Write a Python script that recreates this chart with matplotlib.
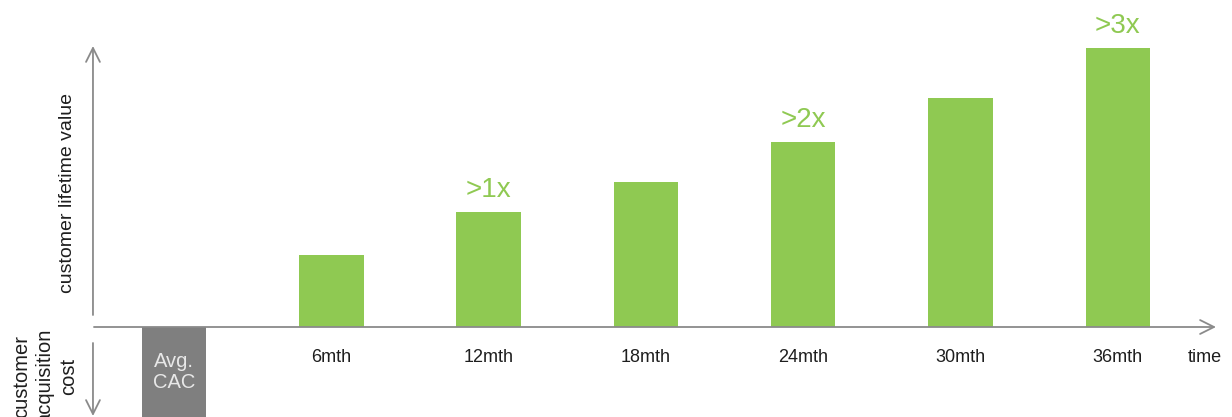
import matplotlib.pyplot as plt

plt.rcParams["font.family"] = ["Liberation Sans", "DejaVu Sans"]

# data (pixel-ish units; zero = time axis)
periods = ["6mth", "12mth", "18mth", "24mth", "30mth", "36mth"]
ltv = [72, 115, 145, 185, 229, 279]
cac = 100
multiples = {"12mth": ">1x", "24mth": ">2x", "36mth": ">3x"}

GREEN = "#8fc952"
GREY = "#7f7f7f"
AXIS = "#8a8a8a"
TEXT = "#1e1e1e"

fig = plt.figure(figsize=(12.32, 4.17), dpi=100)
ax = fig.add_axes([0, 0, 1, 1])
ax.set_xlim(-1.106, 6.726)
ax.set_ylim(-90, 327)
ax.axis("off")

W = 0.41
xs = list(range(1, len(periods) + 1))


def px(p):
    return (p - 174) / 157.3


# bars
ax.bar(0, -cac, width=W, color=GREY, align="center", zorder=2)
ax.bar(xs, ltv, width=W, color=GREEN, align="center", zorder=2)

ax.text(0, -45, "Avg.\nCAC", ha="center", va="center", color="#e8e8e8",
        fontsize=14.5, linespacing=1.1)

for x, p, v in zip(xs, periods, ltv):
    ax.text(x, -30, p, ha="center", va="center", color=TEXT, fontsize=13)
    if p in multiples:
        ax.text(x, v + 9, multiples[p], ha="center", va="bottom",
                color=GREEN, fontsize=20)

ax.text(px(1205), -30, "time", ha="center", va="center", color=TEXT,
        fontsize=13)

arrow = dict(arrowstyle="->,head_length=1.0,head_width=0.5", color=AXIS,
             lw=1.3, shrinkA=0, shrinkB=0)
# time axis
ax.annotate("", xy=(px(1216), 0), xytext=(px(94), 0), arrowprops=arrow)
# value axis (up) and cost axis (down)
ax.annotate("", xy=(px(93), 281), xytext=(px(93), 12), arrowprops=arrow)
ax.annotate("", xy=(px(93), -89), xytext=(px(93), -16), arrowprops=arrow)

ax.text(px(68), 134, "customer lifetime value", rotation=90, ha="center",
        va="center", color=TEXT, fontsize=14)
ax.text(px(45), -49, "customer\nacquisition\ncost", rotation=90,
        ha="center", va="center", color=TEXT, fontsize=14.5, linespacing=1.3)

fig.savefig("out.png", dpi=100)
